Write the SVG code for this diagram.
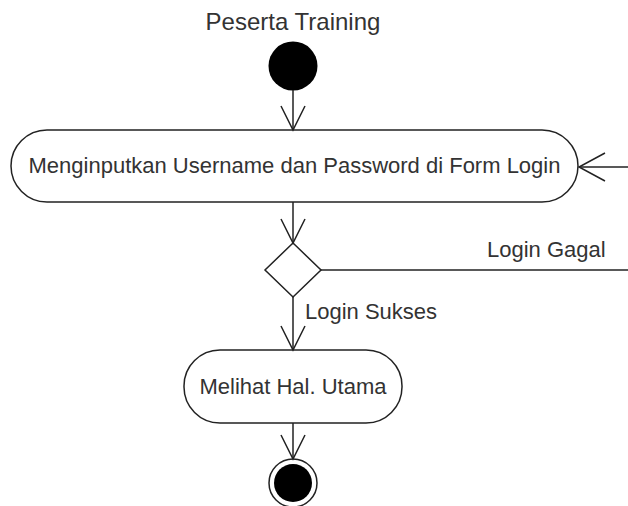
<svg xmlns="http://www.w3.org/2000/svg" width="628" height="506" viewBox="0 0 628 506">
  <defs>
    <style>
      .lbl { font-family: "Liberation Sans", Arial, sans-serif; font-size: 22px; fill: #333; }
      .title { font-size: 24px; }
      .act { fill: #fff; stroke: #222; stroke-width: 1.5; }
      .edge { fill: none; stroke: #222; stroke-width: 1.5; }
      .head { fill: none; stroke: #222; stroke-width: 1.5; stroke-linejoin: miter; }
    </style>
  </defs>
  <rect width="628" height="506" fill="#fff"/>

  <!-- swimlane caption -->
  <text class="lbl title" x="293" y="30" text-anchor="middle">Peserta Training</text>

  <g id="start">
    <circle cx="293" cy="66" r="24.5" fill="#000"/>
  </g>

  <g id="input-login">
    <rect class="act" x="11" y="130" width="567" height="72" rx="36" ry="36"/>
    <text class="lbl" x="294.5" y="173" text-anchor="middle">Menginputkan Username dan Password di Form Login</text>
  </g>

  <g id="decision">
    <polygon class="act" points="293,243 321,270 293,297 265,270"/>
  </g>

  <g id="main-page">
    <rect class="act" x="184" y="350" width="218" height="73" rx="36" ry="36"/>
    <text class="lbl" x="293" y="394" text-anchor="middle">Melihat Hal. Utama</text>
  </g>

  <g id="end">
    <circle cx="293" cy="483" r="24" fill="#fff" stroke="#222" stroke-width="1.5"/>
    <circle cx="293" cy="483" r="19" fill="#000"/>
  </g>

  <g id="connectors">
    <!-- start to input -->
    <line class="edge" x1="293" y1="90" x2="293" y2="130"/>
    <polyline class="head" points="281,106 293,130 305,106"/>
    <!-- input to decision -->
    <line class="edge" x1="293" y1="202" x2="293" y2="243"/>
    <polyline class="head" points="281,219 293,243 305,219"/>
    <!-- decision to main page -->
    <line class="edge" x1="293" y1="297" x2="293" y2="350"/>
    <polyline class="head" points="281,326 293,350 305,326"/>
    <text class="lbl" x="305" y="319">Login Sukses</text>
    <!-- main page to end -->
    <line class="edge" x1="293" y1="423" x2="293" y2="459"/>
    <polyline class="head" points="281,435 293,459 305,435"/>
    <!-- failed login loops back to input -->
    <line class="edge" x1="321" y1="270" x2="628" y2="270"/>
    <text class="lbl" x="487" y="257">Login Gagal</text>
    <line class="edge" x1="628" y1="167" x2="579" y2="167"/>
    <polyline class="head" points="605,153 579,167 605,181"/>
  </g>
</svg>
